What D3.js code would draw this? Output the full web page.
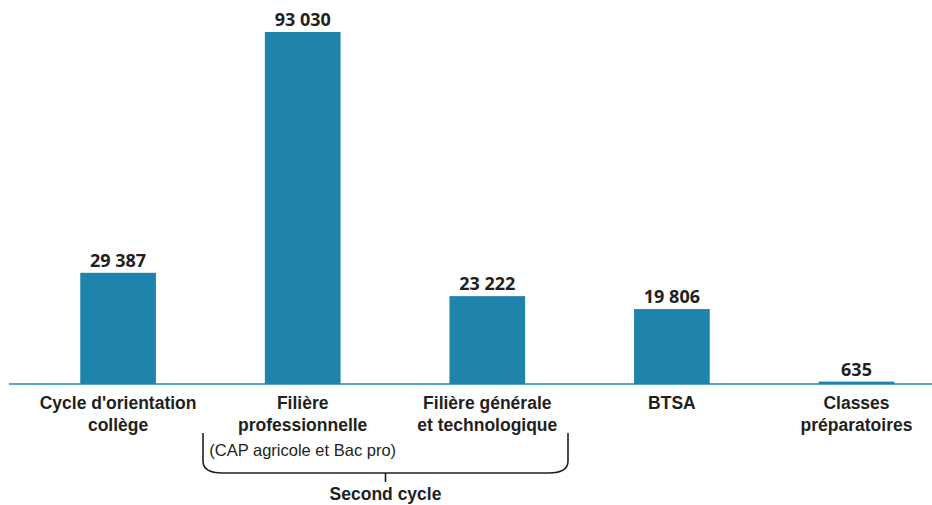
<!DOCTYPE html>
<html>
<head>
<meta charset="utf-8">
<script src="https://cdn.jsdelivr.net/npm/d3@7"></script>
<style>
body{margin:0;background:#fff;}
svg{display:block;}
</style>
</head>
<body>
<svg id="svg" width="932" height="505"></svg>
<script>
var categories=['cycle','pro','gen','btsa','prepa'];
var values=[29387,93030,23222,19806,635];
var valueLabels=['29 387','93 030','23 222','19 806','635'];
var catLabels=[
	["Cycle d'orientation","collège"],
	["Filière","professionnelle"],
	["Filière générale","et technologique"],
	["BTSA"],
	["Classes","préparatoires"]
];
var subLabel='(CAP agricole et Bac pro)';
var groupLabel='Second cycle';

var svg=d3.select("#svg");
var base=384;
var barColor='#1f84ac';

var xscale=d3.scaleBand()
.domain(categories)
.range([25.8,948.8])
.paddingInner(0.59)
.paddingOuter(0.295);

var yscale=d3.scaleLinear()
.domain([0,d3.max(values)])
.range([base,32]);

// baseline
svg.append("line")
.attr("x1",9).attr("x2",932)
.attr("y1",base).attr("y2",base)
.attr("stroke","#1a8bb0")
.attr("stroke-width",1.5);

var bars=svg.append("g");
bars.selectAll("rect").data(values).enter()
.append("rect")
.attr("x",function(d,i){return xscale(categories[i]);})
.attr("width",xscale.bandwidth())
.attr("y",function(d){return yscale(d);})
.attr("height",function(d){return base-yscale(d);})
.attr("fill",barColor);

bars.selectAll("text").data(values).enter()
.append("text")
.attr("x",function(d,i){return xscale(categories[i])+xscale.bandwidth()/2;})
.attr("y",function(d){return yscale(d)-6;})
.attr("text-anchor","middle")
.attr("font-family","'Open Sans', sans-serif")
.attr("font-weight","bold")
.attr("font-size","18px")
.attr("fill","#231f20")
.text(function(d,i){return valueLabels[i];});

// category labels
var cat=svg.append("g")
.attr("font-family","'Liberation Sans', Arial, sans-serif")
.attr("font-weight","bold")
.attr("font-size","17.5px")
.attr("fill","#231f20")
.attr("text-anchor","middle");

catLabels.forEach(function(lines,i){
	var t=cat.append("text")
	.attr("x",xscale(categories[i])+xscale.bandwidth()/2)
	.attr("y",409);
	lines.forEach(function(l,j){
		t.append("tspan")
		.attr("x",xscale(categories[i])+xscale.bandwidth()/2)
		.attr("dy",j==0?0:22)
		.text(l);
	});
});

svg.append("text")
.attr("x",xscale('pro')+xscale.bandwidth()/2)
.attr("y",456)
.attr("text-anchor","middle")
.attr("font-family","'Liberation Sans', Arial, sans-serif")
.attr("font-size","16.5px")
.attr("fill","#231f20")
.text(subLabel);

// brace under second cycle
var bx1=203,bx2=568,btop=433,bbot=473,r=12;
var mid=(bx1+bx2)/2;
var p=d3.path();
p.moveTo(bx1,btop);
p.lineTo(bx1,bbot-r);
p.quadraticCurveTo(bx1,bbot,bx1+r*1.6,bbot);
p.lineTo(bx2-r*1.6,bbot);
p.quadraticCurveTo(bx2,bbot,bx2,bbot-r);
p.lineTo(bx2,btop);
p.moveTo(mid,bbot);
p.lineTo(mid,bbot+9);
svg.append("path")
.attr("d",p.toString())
.attr("fill","none")
.attr("stroke","#231f20")
.attr("stroke-width",1.6);

svg.append("text")
.attr("x",mid)
.attr("y",500)
.attr("text-anchor","middle")
.attr("font-family","'Liberation Sans', Arial, sans-serif")
.attr("font-weight","bold")
.attr("font-size","17.5px")
.attr("fill","#231f20")
.text(groupLabel);
</script>
</body>
</html>
